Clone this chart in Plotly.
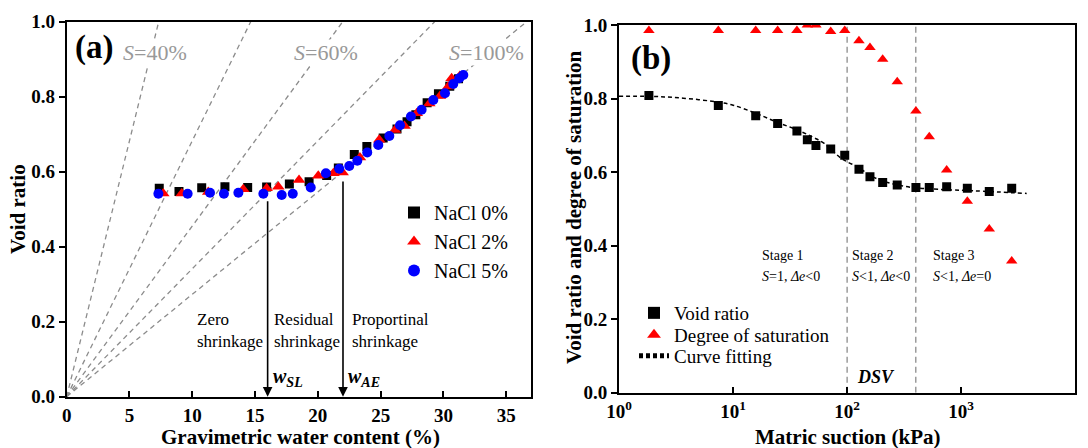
import plotly.graph_objects as go

# ---------------- Panel (a) data ----------------
w_nacl0 = [7.37, 8.94, 10.75, 12.6, 14.41, 15.92, 17.73, 19.3, 20.7, 21.63, 22.9, 23.9, 25.2, 26.3, 27.1, 27.8, 28.7, 29.6, 30.5, 31.2]
e_nacl0 = [0.556, 0.547, 0.557, 0.560, 0.558, 0.559, 0.567, 0.573, 0.590, 0.610, 0.646, 0.667, 0.690, 0.714, 0.733, 0.752, 0.784, 0.808, 0.828, 0.848]

w_nacl2 = [7.69, 9.16, 11.27, 14.06, 15.92, 16.85, 18.5, 20.03, 21.23, 21.97, 23.35, 24.89, 26.14, 26.9, 27.87, 28.87, 29.72, 30.38, 30.65, 31.3]
e_nacl2 = [0.542, 0.542, 0.546, 0.553, 0.556, 0.560, 0.578, 0.589, 0.596, 0.598, 0.638, 0.685, 0.711, 0.722, 0.756, 0.782, 0.802, 0.827, 0.849, 0.855]

w_nacl5 = [7.3, 9.63, 11.41, 12.52, 13.67, 15.66, 17.12, 18.0, 19.43, 20.64, 21.7, 22.5, 23.14, 23.93, 24.81, 25.69, 26.54, 27.41, 28.26, 29.19, 30.12, 30.78, 31.26, 31.58]
e_nacl5 = [0.541, 0.541, 0.544, 0.541, 0.544, 0.541, 0.538, 0.541, 0.558, 0.596, 0.608, 0.615, 0.629, 0.651, 0.671, 0.695, 0.724, 0.747, 0.765, 0.791, 0.809, 0.834, 0.849, 0.858]

# saturation reference lines e = Gs * w / S
Gs = 2.73
S_lines = [0.2, 0.4, 0.6, 0.8, 1.0]
w_line_ends = [0, 37]

w_SL = 16
w_AE = 22

# ---------------- Panel (b) data ----------------
suction = [1.83, 7.43, 15.8, 24.6, 36.3, 44.8, 53.3, 71.8, 95.3, 127, 158.6, 205, 275, 401, 525, 746, 1132, 1763, 2772]
void_ratio = [0.808, 0.781, 0.753, 0.732, 0.712, 0.688, 0.672, 0.663, 0.646, 0.608, 0.587, 0.572, 0.565, 0.558, 0.558, 0.560, 0.556, 0.547, 0.556]
saturation = [0.985, 0.985, 0.985, 0.985, 0.985, 1.0, 1.0, 0.982, 0.985, 0.957, 0.939, 0.907, 0.846, 0.766, 0.696, 0.606, 0.521, 0.445, 0.358]

fit_suction = [1, 1.83, 3, 5, 7.43, 10, 15.8, 24.6, 36.3, 50, 63, 86.5, 100, 127, 158.6, 205, 275, 401, 640, 1300, 3750]
fit_void = [0.806, 0.806, 0.803, 0.797, 0.790, 0.782, 0.760, 0.735, 0.715, 0.695, 0.678, 0.640, 0.628, 0.612, 0.591, 0.576, 0.565, 0.557, 0.553, 0.549, 0.542]

stage_bounds = [100, 400]

x_ticks_b = [1, 10, 100, 1000, 10000]
x_ticktext_b = ["10<sup>0</sup>", "10<sup>1</sup>", "10<sup>2</sup>", "10<sup>3</sup>", "10<sup>4</sup>"]

SERIF = "Liberation Serif"
W, H = 1088, 448

fig = go.Figure()

# S reference lines
for S in S_lines:
    fig.add_trace(go.Scatter(
        x=w_line_ends, y=[Gs * w / 100 / S for w in w_line_ends],
        mode="lines", line=dict(color="#8c8c8c", width=1.3, dash="5px,4px"),
        showlegend=False, hoverinfo="skip", xaxis="x", yaxis="y"))

fig.add_trace(go.Scatter(x=w_nacl0, y=e_nacl0, mode="markers", name="NaCl 0%",
                         marker=dict(symbol="square", size=9, color="black"),
                         xaxis="x", yaxis="y", legend="legend"))
fig.add_trace(go.Scatter(x=w_nacl2, y=e_nacl2, mode="markers", name="NaCl 2%",
                         marker=dict(symbol="triangle-up", size=11, color="red"),
                         xaxis="x", yaxis="y", legend="legend"))
fig.add_trace(go.Scatter(x=w_nacl5, y=e_nacl5, mode="markers", name="NaCl 5%",
                         marker=dict(symbol="circle", size=10, color="blue"),
                         xaxis="x", yaxis="y", legend="legend"))

# Panel (b)
for sb in stage_bounds:
    fig.add_trace(go.Scatter(x=[sb, sb], y=[0, 1], mode="lines",
                             line=dict(color="#8c8c8c", width=1.3, dash="6px,4px"),
                             showlegend=False, hoverinfo="skip", xaxis="x2", yaxis="y2"))

fig.add_trace(go.Scatter(x=suction, y=void_ratio, mode="markers", name="Void ratio",
                         marker=dict(symbol="square", size=9, color="black"),
                         xaxis="x2", yaxis="y2", legend="legend2"))
fig.add_trace(go.Scatter(x=suction, y=saturation, mode="markers", name="Degree of saturation",
                         marker=dict(symbol="triangle-up", size=10, color="red"),
                         xaxis="x2", yaxis="y2", legend="legend3"))
fig.add_trace(go.Scatter(x=fit_suction, y=fit_void, mode="lines", name="Curve fitting",
                         line=dict(color="black", width=1.5, dash="4px,3px", shape="spline"),
                         xaxis="x2", yaxis="y2", legend="legend4"))

axis_common = dict(showline=True, linecolor="black", linewidth=2, mirror=True, automargin=False,
                   showgrid=False, zeroline=False, ticklen=6, tickwidth=1.5, tickcolor="black",
                   tickfont=dict(family=SERIF, size=19, color="black", weight="bold"))


def leg(left_px, top_px, size):
    return dict(x=left_px / W, y=1 - top_px / H, xanchor="left", yanchor="top",
                bgcolor="rgba(0,0,0,0)", font=dict(family=SERIF, size=size, color="black"),
                tracegroupgap=0, itemsizing="constant")


fig.update_layout(
    width=W, height=H,
    margin=dict(l=0, r=0, t=0, b=0, autoexpand=False),
    paper_bgcolor="white", plot_bgcolor="white",
    font=dict(family=SERIF, color="black"),
    xaxis=dict(domain=[0.0613, 0.4884], range=[0, 37], tickvals=[0, 5, 10, 15, 20, 25, 30, 35],
               ticks="inside", anchor="y", **axis_common),
    yaxis=dict(domain=[0.1145, 0.9516], range=[0, 1], tickvals=[0, 0.2, 0.4, 0.6, 0.8, 1.0],
               tickformat=".1f", ticks="outside", anchor="x", **axis_common),
    xaxis2=dict(domain=[0.5689, 0.9883], type="log", range=[0, 4], tickvals=x_ticks_b,
                ticktext=x_ticktext_b, ticks="inside", anchor="y2", **axis_common),
    yaxis2=dict(domain=[0.1234, 0.9442], range=[0, 1], tickvals=[0, 0.2, 0.4, 0.6, 0.8, 1.0],
                tickformat=".1f", ticks="outside", anchor="x2", **axis_common),
    legend=leg(394, 193, 20),
    legend2=leg(634, 294, 19),
    legend3=leg(634, 316, 19),
    legend4=leg(634, 337, 19),
)

ann = []
title_font = dict(family=SERIF, size=21, color="black")
# axis titles
ann.append(dict(text="<b>Void ratio</b>", x=18 / W, y=1 - 209 / H, xref="paper", yref="paper",
                textangle=-90, showarrow=False, font=title_font, xanchor="center", yanchor="middle"))
ann.append(dict(text="<b>Gravimetric water content (%)</b>", x=300 / W, y=1 - 437 / H,
                xref="paper", yref="paper", showarrow=False, font=title_font,
                xanchor="center", yanchor="middle"))
ann.append(dict(text="<b>Void ratio and degree of saturation</b>", x=574 / W, y=1 - 207 / H,
                xref="paper", yref="paper", textangle=-90, showarrow=False, font=title_font,
                xanchor="center", yanchor="middle"))
ann.append(dict(text="<b>Matric suction (kPa)</b>", x=847 / W, y=1 - 437 / H,
                xref="paper", yref="paper", showarrow=False, font=title_font,
                xanchor="center", yanchor="middle"))

# panel labels
ann.append(dict(text="<b>(a)</b>", x=0.5, y=0.932, xref="x", yref="y", showarrow=False,
                xanchor="left", yanchor="middle", font=dict(family=SERIF, size=33, color="black")))
ann.append(dict(text="<b>(b)</b>", x=0.085, y=0.91, xref="x2", yref="y2", showarrow=False,
                xanchor="left", yanchor="middle", font=dict(family=SERIF, size=33, color="black")))

# S labels
gray_font = dict(family=SERIF, size=22, color="#999999")
for txt, wx in [("<i>S</i>=40%", 4.4), ("<i>S</i>=60%", 18.0), ("<i>S</i>=100%", 30.35)]:
    ann.append(dict(text=txt, x=wx, y=0.919, xref="x", yref="y", showarrow=False,
                    xanchor="left", yanchor="middle", font=gray_font, bgcolor="white", borderpad=0))

# shrinkage zone labels
zone_font = dict(family=SERIF, size=17, color="black")
for txt, wx in [("Zero<br>shrinkage", 10.2), ("Residual<br>shrinkage", 16.35), ("Proportinal<br>shrinkage", 22.55)]:
    ann.append(dict(text=txt, x=wx, y=0.177, xref="x", yref="y", showarrow=False,
                    xanchor="left", yanchor="middle", align="left", font=zone_font))

# arrows
ann.append(dict(x=w_SL, y=0.0, ax=w_SL, ay=0.525, xref="x", yref="y", axref="x", ayref="y",
                showarrow=True, arrowhead=2, arrowsize=1.2, arrowwidth=1.6, arrowcolor="black", text=""))
ann.append(dict(x=w_AE, y=0.0, ax=w_AE, ay=0.578, xref="x", yref="y", axref="x", ayref="y",
                showarrow=True, arrowhead=2, arrowsize=1.2, arrowwidth=1.6, arrowcolor="black", text=""))
wfont = dict(family=SERIF, size=20, color="black")
ann.append(dict(text="<b><i>w<sub>SL</sub></i></b>", x=w_SL + 0.25, y=0.052, xref="x", yref="y",
                showarrow=False, xanchor="left", yanchor="middle", font=wfont))
ann.append(dict(text="<b><i>w<sub>AE</sub></i></b>", x=w_AE + 0.25, y=0.052, xref="x", yref="y",
                showarrow=False, xanchor="left", yanchor="middle", font=wfont))

# stage labels panel (b)
stage_font = dict(family=SERIF, size=14, color="black")
stage_info = [("Stage 1", "<i>S</i>=1, <i>Δe</i>&lt;0", 1.236),
              ("Stage 2", "<i>S</i>&lt;1, <i>Δe</i>&lt;0", 2.025),
              ("Stage 3", "<i>S</i>&lt;1, <i>Δe</i>=0", 2.733)]
for t1, t2, lx in stage_info:
    ann.append(dict(text=t1, x=lx, y=0.3745, xref="x2", yref="y2", showarrow=False,
                    xanchor="left", yanchor="middle", font=stage_font))
    ann.append(dict(text=t2, x=lx, y=0.315, xref="x2", yref="y2", showarrow=False,
                    xanchor="left", yanchor="middle", font=stage_font))
ann.append(dict(text="<b><i>DSV</i></b>", x=2.069, y=0.044, xref="x2", yref="y2", showarrow=False,
                xanchor="left", yanchor="middle", font=dict(family=SERIF, size=18, color="black")))

fig.update_layout(annotations=ann)

fig.write_html("out.html")
